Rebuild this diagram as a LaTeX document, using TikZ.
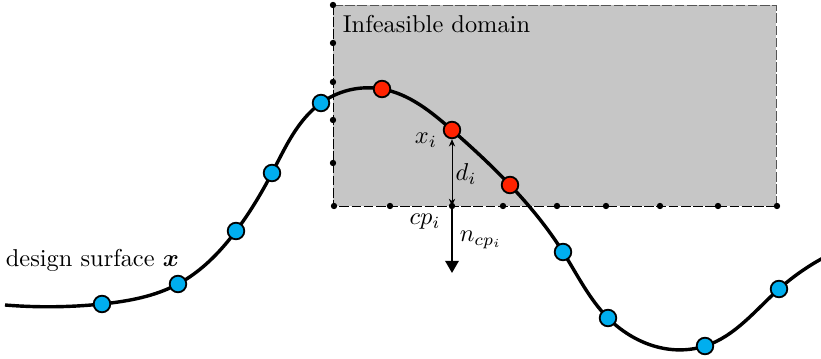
\documentclass[tikz,border=0pt]{standalone}
\usepackage{amsmath,bm}
\usetikzlibrary{arrows.meta,hobby}
\definecolor{ptblue}{HTML}{00AEEF}
\definecolor{ptred}{HTML}{FF2200}
\definecolor{domfill}{HTML}{C6C6C6}
\definecolor{domline}{HTML}{555555}
\begin{document}
\begin{tikzpicture}[x=0.41pt,y=-0.41pt,
  bluept/.style={circle,draw=black,line width=0.75pt,fill=ptblue,minimum size=6.8pt,inner sep=0pt},
  redpt/.style={circle,draw=black,line width=0.75pt,fill=ptred,minimum size=6.8pt,inner sep=0pt},
  cdot/.style={circle,fill=black,minimum size=2.6pt,inner sep=0pt},
  lbl/.style={inner sep=1pt}]
\useasboundingbox (0,0) rectangle (821,359);
% infeasible domain
\fill[domfill] (333,5) rectangle (776,206);
\draw[domline,line width=0.4pt,dash pattern=on 4pt off 1pt] (776,206) -- (776,5) -- (333,5);
\draw[black,line width=0.4pt,dash pattern=on 4pt off 1pt] (333,5) -- (333,206) -- (776,206);
\node[lbl,anchor=west] (dom) at (340,24) {Infeasible domain};
% dots
\foreach \y/\n in {5/l1,43/l2,82/l3,120/l4,163/l5} {\node[cdot] (\n) at (333,\y) {};}
\foreach \x/\n in {334/b1,390/b2,503/b4,557/b5,606/b6,660/b7,718/b8,777/b9} {\node[cdot] (\n) at (\x,206) {};}
\node[cdot] (cp) at (452,206) {};
% curve points
\coordinate (s) at (5,305);
\coordinate (e) at (866,240);
\coordinate (p1) at (102,304);
\coordinate (p2) at (178,284);
\coordinate (p3) at (236,231);
\coordinate (p4) at (272,173);
\coordinate (p5) at (321,103);
\coordinate (r1) at (382,89);
\coordinate (r2) at (452,130);
\coordinate (r3) at (510,185);
\coordinate (p6) at (563,252);
\coordinate (p7) at (608,318);
\coordinate (p8) at (705,346);
\coordinate (p9) at (779,289);
\begin{scope}
\clip (0,0) rectangle (821,359);
\draw[line width=1.4pt] (s) to[curve through={(p1) (p2) (p3) (p4) (p5) (r1) (r2) (r3) (p6) (p7) (p8) (p9)}] (e);
\end{scope}
% points on top
\foreach \n in {p1,p2,p3,p4,p5,p6,p7,p8,p9} {\node[bluept] (n\n) at (\n) {};}
\foreach \n in {r1,r2,r3} {\node[redpt] (n\n) at (\n) {};}
% distance and normal
\draw[line width=0.4pt,{Stealth[length=3pt,width=2.6pt]}-{Stealth[length=3pt,width=2.6pt]}] (nr2.south) -- (cp.center);
\coordinate (nend) at (452,273);
\draw[line width=0.9pt,-{Triangle[length=5pt,width=5.5pt]}] (cp.center) -- (nend);
\node[lbl] (xi) at (426,140) {$x_i$};
\node[lbl] (di) at (466,174) {$d_i$};
\node[lbl] (cpi) at (425,222) {$cp_i$};
\node[lbl] (ncp) at (481,240) {$n_{cp_i}$};
\node[lbl,anchor=west] (ds) at (3,260) {design surface $\bm{x}$};
\end{tikzpicture}
\end{document}
